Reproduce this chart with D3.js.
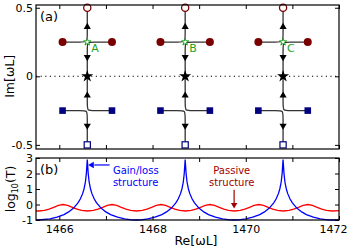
<!DOCTYPE html>
<html>
<head>
<meta charset="utf-8">
<script src="https://cdn.jsdelivr.net/npm/d3@7"></script>
<style>
body { margin: 0; background: #fff; }
svg { display: block; font-family: "DejaVu Sans", sans-serif; }
</style>
</head>
<body>
<div id="chart"></div>
<script>
// exceptional points (Re of each structure) and their labels
var centers = [1466.6, 1468.7, 1470.8];
var epLabels = ['A', 'B', 'C'];

// eigenvalue trajectories, offsets [dRe, Im] from each centre
var branchUpLeft = [[-0.53, 0.25], [-0.12, 0.25], [0, 0.25], [0, 0.29], [0, 0.5]];
var branchUpRight = [[0.53, 0.25], [0.12, 0.25], [0, 0.25], [0, 0.21], [0, 0]];
var branchLowRight = [[0.53, -0.25], [0.12, -0.25], [0, -0.25], [0, -0.21], [0, 0]];
var branchLowLeft = [[-0.53, -0.25], [-0.12, -0.25], [0, -0.25], [0, -0.29], [0, -0.5]];

var circleDRe = [-0.53, 0.53], circleIm = 0.25;
var squareDRe = [-0.53, 0.53], squareIm = -0.25;
var openCircleIm = 0.5, openSquareIm = -0.5, starIm = 0, epIm = 0.25;
// arrow heads on the vertical line: Im and direction
var arrowIm = [0.36, 0.14, -0.14, -0.36];
var arrowDir = ['up', 'down', 'up', 'down'];

// panel (b): transmission of gain/loss structure
var gainRe = [1465.5, 1465.55, 1465.8, 1465.95, 1466.1, 1466.2, 1466.3, 1466.4, 1466.45, 1466.5, 1466.53, 1466.56, 1466.58, 1466.59, 1466.6,
  1466.61, 1466.62, 1466.64, 1466.67, 1466.7, 1466.75, 1466.8, 1466.9, 1467.0, 1467.1, 1467.25, 1467.4, 1467.55, 1467.65,
  1467.75, 1467.9, 1468.05, 1468.2, 1468.3, 1468.4, 1468.5, 1468.55, 1468.6, 1468.63, 1468.66, 1468.68, 1468.69, 1468.7,
  1468.71, 1468.72, 1468.74, 1468.77, 1468.8, 1468.85, 1468.9, 1469.0, 1469.1, 1469.2, 1469.35, 1469.5, 1469.65, 1469.75,
  1469.85, 1470.0, 1470.15, 1470.3, 1470.4, 1470.5, 1470.6, 1470.65, 1470.7, 1470.73, 1470.76, 1470.78, 1470.79, 1470.8,
  1470.81, 1470.82, 1470.84, 1470.87, 1470.9, 1470.95, 1471.0, 1471.1, 1471.2, 1471.3, 1471.45, 1471.6, 1471.75, 1471.85, 1472.0];
var gainLogT = [-1.0, -1.0, -0.93, -0.82, -0.65, -0.48, -0.25, 0.1, 0.35, 0.7, 1.0, 1.45, 2.0, 2.45, 2.9,
  2.45, 2.0, 1.45, 1.0, 0.7, 0.35, 0.1, -0.25, -0.48, -0.65, -0.82, -0.93, -0.99, -1.0,
  -0.99, -0.93, -0.82, -0.65, -0.48, -0.25, 0.1, 0.35, 0.7, 1.0, 1.45, 2.0, 2.45, 2.9,
  2.45, 2.0, 1.45, 1.0, 0.7, 0.35, 0.1, -0.25, -0.48, -0.65, -0.82, -0.93, -0.99, -1.0,
  -0.99, -0.93, -0.82, -0.65, -0.48, -0.25, 0.1, 0.35, 0.7, 1.0, 1.45, 2.0, 2.45, 2.9,
  2.45, 2.0, 1.45, 1.0, 0.7, 0.35, 0.1, -0.25, -0.48, -0.65, -0.82, -0.93, -0.99, -1.0, -0.99];

// panel (b): transmission of passive structure
var passiveRe = [1465.5, 1465.555, 1465.68, 1465.78, 1465.88, 1465.98, 1466.08, 1466.18, 1466.28, 1466.38, 1466.48, 1466.605,
  1466.73, 1466.83, 1466.93, 1467.03, 1467.13, 1467.23, 1467.33, 1467.43, 1467.53, 1467.655,
  1467.78, 1467.88, 1467.98, 1468.08, 1468.18, 1468.28, 1468.38, 1468.48, 1468.58, 1468.705,
  1468.83, 1468.93, 1469.03, 1469.13, 1469.23, 1469.33, 1469.43, 1469.53, 1469.63, 1469.755,
  1469.88, 1469.98, 1470.08, 1470.18, 1470.28, 1470.38, 1470.48, 1470.58, 1470.68, 1470.805,
  1470.93, 1471.03, 1471.13, 1471.23, 1471.33, 1471.43, 1471.53, 1471.63, 1471.73, 1471.855, 1472.0];
var passiveLogT = [-0.42, -0.42, -0.38, -0.3, -0.18, -0.06, 0, -0.06, -0.18, -0.3, -0.38, -0.42,
  -0.38, -0.3, -0.18, -0.06, 0, -0.06, -0.18, -0.3, -0.38, -0.42,
  -0.38, -0.3, -0.18, -0.06, 0, -0.06, -0.18, -0.3, -0.38, -0.42,
  -0.38, -0.3, -0.18, -0.06, 0, -0.06, -0.18, -0.3, -0.38, -0.42,
  -0.38, -0.3, -0.18, -0.06, 0, -0.06, -0.18, -0.3, -0.38, -0.42,
  -0.38, -0.3, -0.18, -0.06, 0, -0.06, -0.18, -0.3, -0.38, -0.42, -0.39];

var xTicks = [1466, 1467, 1468, 1469, 1470, 1471, 1472];
var xLabels = [1466, 1468, 1470, 1472];
var yTicksA = [-0.5, 0, 0.5];
var yTicksB = [-1, 0, 1, 2, 3];

var W = 349, H = 250;
var left = 36, right = 339;
var a = { top: 5, bottom: 149 }, b = { top: 158, bottom: 220 };

var svg = d3.select('#chart').append('svg')
  .attr('width', W).attr('height', H);

var x = d3.scaleLinear().domain([1465.5, 1472]).range([left, right]);
var ya = d3.scaleLinear().domain([-0.53, 0.52]).range([a.bottom, a.top]);
var yb = d3.scaleLinear().domain([-1, 3]).range([b.bottom, b.top]);

var darkRed = '#7a0000', navy = '#000080', green = '#1ea01e';

function drawAxes(yScale, top, bottom, yTicks, showX) {
  var gx = svg.append('g').attr('transform', 'translate(0,' + bottom + ')')
    .call(d3.axisBottom(x).tickValues(xTicks).tickSizeInner(-4).tickSizeOuter(0).tickPadding(5)
      .tickFormat(d => (showX && xLabels.indexOf(d) >= 0) ? d : ''));
  // the last label sits left of its tick, inside the picture
  gx.selectAll('.tick text').filter(d => d === 1472).attr('dx', -6);
  svg.append('g').attr('transform', 'translate(0,' + top + ')')
    .call(d3.axisTop(x).tickValues(xTicks).tickSizeInner(-4).tickSizeOuter(0).tickFormat(''));
  svg.append('g').attr('transform', 'translate(' + left + ',0)')
    .call(d3.axisLeft(yScale).tickValues(yTicks).tickSizeInner(-4).tickSizeOuter(0).tickPadding(3)
      .tickFormat(d => d));
  svg.append('g').attr('transform', 'translate(' + right + ',0)')
    .call(d3.axisRight(yScale).tickValues(yTicks).tickSizeInner(-4).tickSizeOuter(0).tickFormat(''));
  svg.selectAll('.domain').remove();
  svg.selectAll('.tick line').attr('stroke', '#000').attr('stroke-width', 1);
  svg.selectAll('.tick text').attr('font-family', '"DejaVu Sans", sans-serif')
    .attr('font-size', 11).attr('fill', '#000');
  svg.append('rect')
    .attr('x', left).attr('y', top)
    .attr('width', right - left).attr('height', bottom - top)
    .attr('fill', 'none').attr('stroke', '#000').attr('stroke-width', 1.2);
}

// ---- panel (a)
var ga = svg.append('g');
ga.append('line')
  .attr('x1', x(1465.5)).attr('x2', x(1472))
  .attr('y1', ya(0)).attr('y2', ya(0))
  .attr('stroke', '#000').attr('stroke-width', 1.1)
  .attr('stroke-dasharray', '1.2,3.4');

var branchLine = d3.line().curve(d3.curveBasis);
var branches = [branchUpLeft, branchUpRight, branchLowRight, branchLowLeft];

centers.forEach(function (c, i) {
  var g = ga.append('g');
  branches.forEach(function (br) {
    g.append('path')
      .attr('d', branchLine(br.map(p => [x(c + p[0]), ya(p[1])])))
      .attr('fill', 'none').attr('stroke', '#333').attr('stroke-width', 1.3);
  });
  arrowIm.forEach(function (im, k) {
    g.append('path')
      .attr('d', d3.symbol(d3.symbolTriangle, 22)())
      .attr('transform', 'translate(' + x(c) + ',' + ya(im) + ')' + (arrowDir[k] === 'down' ? ' rotate(180)' : ''))
      .attr('fill', '#000');
  });
  circleDRe.forEach(function (d) {
    g.append('circle').attr('cx', x(c + d)).attr('cy', ya(circleIm)).attr('r', 4)
      .attr('fill', darkRed);
  });
  squareDRe.forEach(function (d) {
    g.append('rect').attr('x', x(c + d) - 3.3).attr('y', ya(squareIm) - 3.3)
      .attr('width', 6.6).attr('height', 6.6).attr('fill', navy);
  });
  g.append('circle').attr('cx', x(c)).attr('cy', ya(openCircleIm)).attr('r', 3.6)
    .attr('fill', '#fff').attr('stroke', darkRed).attr('stroke-width', 1.3);
  g.append('rect').attr('x', x(c) - 3.1).attr('y', ya(openSquareIm) - 3.1)
    .attr('width', 6.2).attr('height', 6.2)
    .attr('fill', '#fff').attr('stroke', navy).attr('stroke-width', 1.2);
  g.append('path')
    .attr('d', d3.symbol(d3.symbolStar, 45)())
    .attr('transform', 'translate(' + x(c) + ',' + ya(starIm) + ')')
    .attr('fill', '#000');
  g.append('path')
    .attr('d', d3.symbol(d3.symbolStar, 16)())
    .attr('transform', 'translate(' + x(c) + ',' + ya(epIm) + ')')
    .attr('fill', '#fff').attr('stroke', green).attr('stroke-width', 1);
  g.append('text')
    .attr('x', x(c) + 4).attr('y', ya(epIm) + 10)
    .attr('font-size', 11).attr('fill', green)
    .text(epLabels[i]);
});

drawAxes(ya, a.top, a.bottom, yTicksA, false);

svg.append('text').attr('x', 40).attr('y', 21)
  .attr('font-size', 13).text('(a)');
svg.append('text')
  .attr('transform', 'translate(14,' + ya(0) + ') rotate(-90)')
  .attr('text-anchor', 'middle').attr('font-size', 12.5)
  .text('Im[ωL]');

// ---- panel (b)
var gb = svg.append('g');
var tLine = d3.line().x(d => x(d[0])).y(d => yb(d[1]));
gb.append('path')
  .attr('d', tLine(passiveRe.map((r, i) => [r, passiveLogT[i]])))
  .attr('fill', 'none').attr('stroke', '#ff0000').attr('stroke-width', 1.3);
gb.append('path')
  .attr('d', tLine(gainRe.map((r, i) => [r, gainLogT[i]])))
  .attr('fill', 'none').attr('stroke', '#0000ff').attr('stroke-width', 1.3);

drawAxes(yb, b.top, b.bottom, yTicksB, true);

svg.append('text').attr('x', 40).attr('y', 174)
  .attr('font-size', 13).text('(b)');
var ylab = svg.append('text')
  .attr('transform', 'translate(15,' + yb(1) + ') rotate(-90)')
  .attr('text-anchor', 'middle').attr('font-size', 12.5);
ylab.append('tspan').text('log');
ylab.append('tspan').attr('font-size', 8).attr('dy', 3).text('10');
ylab.append('tspan').attr('dy', -3).text('(T)');

svg.append('text')
  .attr('x', 196).attr('y', 245)
  .attr('text-anchor', 'middle').attr('font-size', 12.5)
  .text('Re[ωL]');

// annotations
var gainText = svg.append('text').attr('font-size', 10).attr('fill', '#0000ff');
gainText.append('tspan').attr('x', x(1467.15)).attr('y', yb(1.95)).text('Gain/loss');
gainText.append('tspan').attr('x', x(1467.15)).attr('y', yb(1.2)).text('structure');
svg.append('line')
  .attr('x1', x(1467.08)).attr('x2', x(1466.75))
  .attr('y1', yb(2.55)).attr('y2', yb(2.55))
  .attr('stroke', '#0000ff').attr('stroke-width', 1.2);
svg.append('path')
  .attr('d', d3.symbol(d3.symbolTriangle, 18)())
  .attr('transform', 'translate(' + x(1466.7) + ',' + yb(2.55) + ') rotate(-90)')
  .attr('fill', '#0000ff');

var passColor = '#a00000';
var passText = svg.append('text').attr('font-size', 10).attr('fill', passColor)
  .attr('text-anchor', 'middle');
passText.append('tspan').attr('x', x(1469.7)).attr('y', yb(1.95)).text('Passive');
passText.append('tspan').attr('x', x(1469.7)).attr('y', yb(1.2)).text('structure');
svg.append('line')
  .attr('x1', x(1469.75)).attr('x2', x(1469.75))
  .attr('y1', yb(0.95)).attr('y2', yb(0.05))
  .attr('stroke', passColor).attr('stroke-width', 1.2);
svg.append('path')
  .attr('d', d3.symbol(d3.symbolTriangle, 18)())
  .attr('transform', 'translate(' + x(1469.75) + ',' + yb(-0.02) + ') rotate(180)')
  .attr('fill', passColor);
</script>
</body>
</html>
